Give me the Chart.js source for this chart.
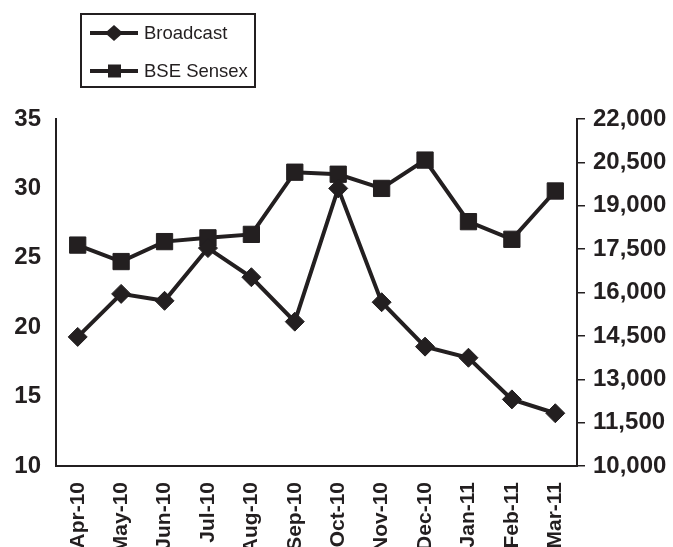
<!DOCTYPE html>
<html>
<head>
<meta charset="utf-8">
<title>Broadcast vs BSE Sensex</title>
<script src="https://cdn.jsdelivr.net/npm/chart.js@4/dist/chart.umd.min.js"></script>
<style>
  html, body { margin: 0; padding: 0; background: #fff; }
  #wrap { width: 673px; height: 547px; }
</style>
</head>
<body>
<div id="wrap"><canvas id="c" width="673" height="547"></canvas></div>
<script>
// Monthly categories
const months = ['Apr-10','May-10','Jun-10','Jul-10','Aug-10','Sep-10','Oct-10','Nov-10','Dec-10','Jan-11','Feb-11','Mar-11'];
// Broadcast sector index (left axis)
const broadcast = [19.3, 22.4, 21.9, 25.7, 23.6, 20.4, 30.0, 21.8, 18.6, 17.8, 14.8, 13.8];
// BSE Sensex closing level (right axis)
const sensex = [17640, 17070, 17760, 17890, 18010, 20160, 20090, 19600, 20580, 18450, 17840, 19510];
// Axis ranges
const leftTicks = { min: 10, max: 35, step: 5 };
const rightTicks = { min: 10000, max: 22000, step: 1500 };

const INK = '#231f20';
const FONT = '"Liberation Sans", Arial, Helvetica, sans-serif';

// Boxed legend with line + marker samples
const boxLegend = {
  id: 'boxLegend',
  afterDraw(chart) {
    const ctx = chart.ctx;
    ctx.save();
    ctx.strokeStyle = INK;
    ctx.lineWidth = 2;
    ctx.strokeRect(81, 14, 174, 73);
    const items = [
      { label: chart.data.datasets[0].label, y: 33, marker: 'diamond' },
      { label: chart.data.datasets[1].label, y: 71, marker: 'square' }
    ];
    items.forEach(it => {
      ctx.strokeStyle = INK;
      ctx.fillStyle = INK;
      ctx.lineWidth = 4;
      ctx.beginPath();
      ctx.moveTo(90, it.y);
      ctx.lineTo(138, it.y);
      ctx.stroke();
      ctx.beginPath();
      if (it.marker === 'diamond') {
        ctx.moveTo(105, it.y);
        ctx.lineTo(114, it.y - 8);
        ctx.lineTo(123, it.y);
        ctx.lineTo(114, it.y + 8);
        ctx.closePath();
      } else {
        ctx.rect(108, it.y - 6.5, 13, 13);
      }
      ctx.fill();
      ctx.font = '18.5px ' + FONT;
      ctx.textAlign = 'left';
      ctx.textBaseline = 'middle';
      ctx.fillText(it.label, 144, it.y + 1);
    });
    ctx.restore();
  }
};

new Chart(document.getElementById('c'), {
  type: 'line',
  data: {
    labels: months,
    datasets: [
      {
        label: 'Broadcast',
        data: broadcast,
        yAxisID: 'yL',
        borderColor: INK,
        backgroundColor: INK,
        borderWidth: 4,
        pointStyle: 'rectRot',
        pointRadius: 9.5,
        pointBorderWidth: 1,
        pointBackgroundColor: INK,
        pointBorderColor: INK,
        tension: 0
      },
      {
        label: 'BSE Sensex',
        data: sensex,
        yAxisID: 'yR',
        borderColor: INK,
        backgroundColor: INK,
        borderWidth: 4,
        pointStyle: 'rect',
        pointRadius: 11.5,
        pointBorderWidth: 1,
        pointBackgroundColor: INK,
        pointBorderColor: INK,
        tension: 0
      }
    ]
  },
  options: {
    responsive: false,
    animation: false,
    layout: { padding: { top: 119, left: 0, right: 0, bottom: 0 } },
    plugins: {
      legend: { display: false },
      tooltip: { enabled: false }
    },
    scales: {
      x: {
        offset: true,
        grid: { display: false, drawTicks: false },
        border: { display: true, color: INK, width: 2 },
        ticks: {
          color: INK,
          font: { family: FONT, size: 21, weight: 'bold' },
          minRotation: 90,
          maxRotation: 90,
          autoSkip: false,
          padding: 16
        },
        afterFit(s) { s.height = 81; }
      },
      yL: {
        position: 'left',
        min: leftTicks.min,
        max: leftTicks.max,
        grid: { display: false, drawTicks: false },
        border: { display: true, color: INK, width: 2 },
        ticks: {
          stepSize: leftTicks.step,
          color: INK,
          font: { family: FONT, size: 24, weight: 'bold' },
          padding: 15
        },
        afterFit(s) { s.width = 56; }
      },
      yR: {
        position: 'right',
        min: rightTicks.min,
        max: rightTicks.max,
        grid: {
          display: true,
          drawOnChartArea: false,
          drawTicks: true,
          tickLength: 8,
          color: INK,
          lineWidth: 1.5
        },
        border: { display: true, color: INK, width: 2 },
        ticks: {
          stepSize: rightTicks.step,
          color: INK,
          font: { family: FONT, size: 24, weight: 'bold' },
          padding: 8,
          callback: v => Number(v).toLocaleString('en-US')
        },
        afterFit(s) { s.width = 96; }
      }
    }
  },
  plugins: [boxLegend]
});
</script>
</body>
</html>
